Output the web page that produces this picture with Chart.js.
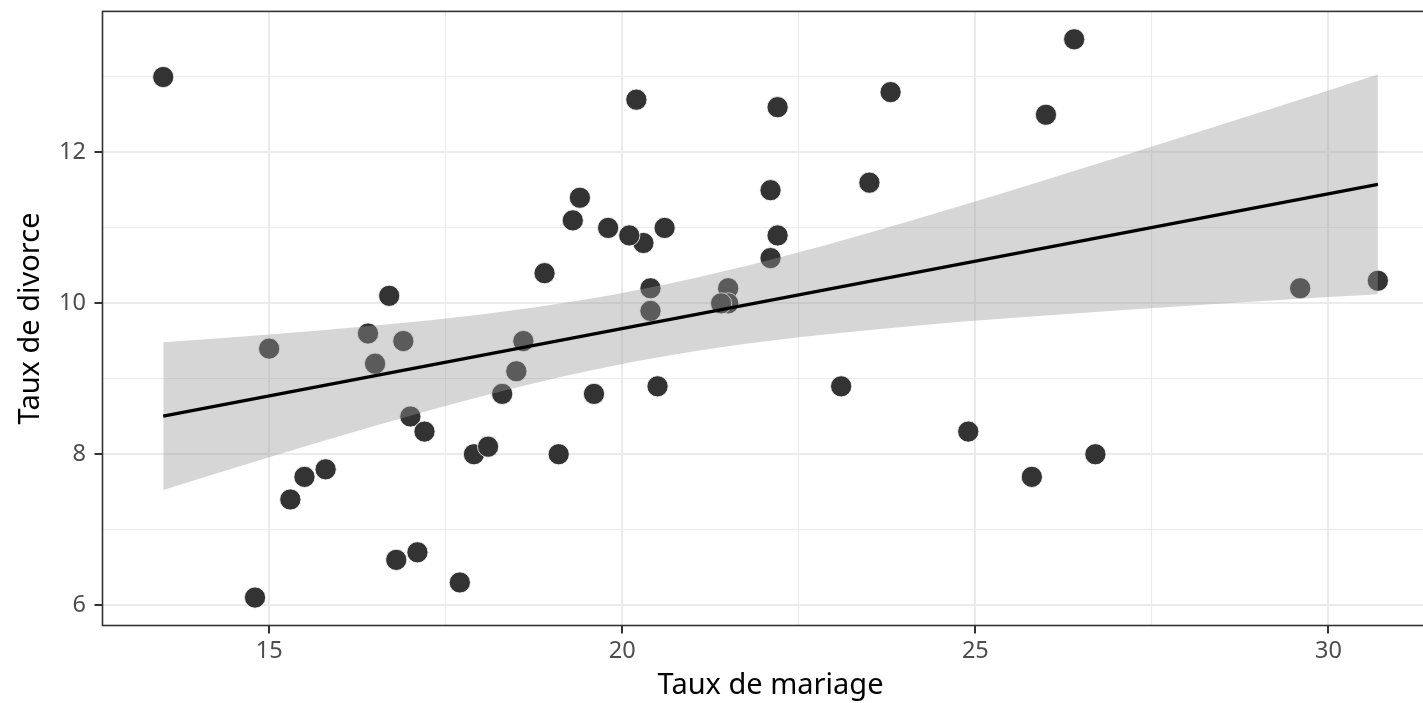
<!DOCTYPE html>
<html><head><meta charset="utf-8">
<script src="https://cdn.jsdelivr.net/npm/chart.js@4"></script>
<style>
html,body{margin:0;padding:0;overflow:hidden;background:#fff;width:1423px;height:703px}
#wrap{position:absolute;left:0;top:0;width:1450px;height:703px}
</style>
</head><body><div id="wrap"><canvas id="c"></canvas></div>
<script>
// Taux de mariage (x) and Taux de divorce (y), one entry per state
const marriage = [20.2,26.0,20.3,26.4,19.1,23.5,17.1,23.1,17.7,17.0,
                  22.1,24.9,25.8,17.9,19.8,21.5,22.1,22.2,20.6,13.5,
                  18.3,15.8,16.5,15.3,19.3,18.6,18.5,19.6,16.7,14.8,
                  20.4,16.8,20.4,26.7,16.9,23.8,18.9,15.5,15.0,18.1,
                  20.1,19.4,21.5,29.6,16.4,20.5,21.4,22.2,17.2,30.7];
const divorce  = [12.7,12.5,10.8,13.5,8.0,11.6,6.7,8.9,6.3,8.5,
                  11.5,8.3,7.7,8.0,11.0,10.2,10.6,12.6,11.0,13.0,
                  8.8,7.8,9.2,7.4,11.1,9.5,9.1,8.8,10.1,6.1,
                  10.2,6.6,9.9,8.0,9.5,12.8,10.4,7.7,9.4,8.1,
                  10.9,11.4,10.0,10.2,9.6,8.9,10.0,10.9,8.3,10.3];
// fitted line
const fitX = [13.5, 30.7];
const fitY = [8.505, 11.578];
// confidence band
const bandX     = [13.5, 15.0, 16.5, 18.0, 19.5, 21.0, 22.5, 24.0, 25.5, 27.0, 28.5, 30.0, 30.7];
const bandUpper = [9.485, 9.587, 9.705, 9.853, 10.053, 10.329, 10.676, 11.071, 11.493, 11.929, 12.373, 12.823, 13.034];
const bandLower = [7.525, 7.959, 8.377, 8.765, 9.101, 9.361, 9.550, 9.691, 9.805, 9.905, 9.997, 10.083, 10.122];
// labelled ticks
const xTickLabels = [15, 20, 25, 30];
const yTickLabels = [6, 8, 10, 12];

const FONT = "'Noto Sans', 'Open Sans', sans-serif";
const isMajX = v => xTickLabels.some(t => Math.abs(t - v) < 1e-6);
const isMajY = v => yTickLabels.some(t => Math.abs(t - v) < 1e-6);

const panelBorder = {
  id: 'panelBorder',
  afterDraw(chart) {
    const {ctx, chartArea: a} = chart;
    ctx.save();
    ctx.strokeStyle = '#333333';
    ctx.lineWidth = 1.6;
    ctx.strokeRect(a.left, a.top, a.right - a.left, a.bottom - a.top);
    ctx.restore();
  }
};

new Chart(document.getElementById('c'), {
  type: 'scatter',
  data: {
    datasets: [
      {
        type: 'line', label: 'upper',
        data: bandX.map((x, i) => ({x, y: bandUpper[i]})),
        borderWidth: 0, pointRadius: 0, fill: '+1',
        backgroundColor: 'rgba(153,153,153,0.4)', borderColor: 'rgba(0,0,0,0)',
        cubicInterpolationMode: 'monotone', order: 2
      },
      {
        type: 'line', label: 'lower',
        data: bandX.map((x, i) => ({x, y: bandLower[i]})),
        borderWidth: 0, pointRadius: 0, fill: false,
        borderColor: 'rgba(0,0,0,0)',
        cubicInterpolationMode: 'monotone', order: 2
      },
      {
        type: 'line', label: 'fit',
        data: fitX.map((x, i) => ({x, y: fitY[i]})),
        borderColor: '#000000', borderWidth: 3.4, pointRadius: 0, fill: false, order: 1
      },
      {
        type: 'scatter', label: 'états',
        data: marriage.map((x, i) => ({x, y: divorce[i]})),
        backgroundColor: '#333333', borderColor: '#ffffff', borderWidth: 0.8,
        pointRadius: 10.6, pointHoverRadius: 10.6, order: 3
      }
    ]
  },
  options: {
    responsive: true, maintainAspectRatio: false, animation: false,
    layout: {padding: {top: 8.2, right: 8, left: 0, bottom: 0}},
    plugins: {legend: {display: false}, tooltip: {enabled: false}},
    events: [],
    scales: {
      x: {
        type: 'linear', min: 12.64, max: 31.56,
        afterFit(s) { s.height = 77.5; s.paddingLeft = 0; s.paddingRight = 0; },
        border: {display: false},
        grid: {
          color: '#ebebeb',
          lineWidth: c => isMajX(c.tick.value) ? 2 : 1.1,
          tickLength: 8,
          tickColor: c => isMajX(c.tick.value) ? '#333333' : 'rgba(0,0,0,0)',
          tickWidth: 2
        },
        ticks: {
          stepSize: 2.5, includeBounds: false, autoSkip: false, maxRotation: 0,
          padding: 3.8, color: '#4d4d4d', font: {family: FONT, size: 23.5},
          callback: v => isMajX(v) ? String(v) : ''
        },
        title: {
          display: true, text: 'Taux de mariage', color: '#000000',
          font: {family: FONT, size: 29}, padding: {top: 0, bottom: 0}
        }
      },
      y: {
        type: 'linear', min: 5.73, max: 13.87,
        afterFit(s) { s.width = 102.5; s.paddingTop = 0; s.paddingBottom = 0; },
        border: {display: false},
        grid: {
          color: '#ebebeb',
          lineWidth: c => isMajY(c.tick.value) ? 2 : 1.1,
          tickLength: 8,
          tickColor: c => isMajY(c.tick.value) ? '#333333' : 'rgba(0,0,0,0)',
          tickWidth: 2
        },
        ticks: {
          stepSize: 1, includeBounds: false, autoSkip: false,
          padding: 8.5, color: '#4d4d4d', font: {family: FONT, size: 23.5},
          callback: v => isMajY(v) ? String(v) : ''
        },
        title: {
          display: true, text: 'Taux de divorce', color: '#000000',
          font: {family: FONT, size: 29}, padding: {top: 13, bottom: 0}
        }
      }
    }
  },
  plugins: [panelBorder]
});
</script>
</body></html>
